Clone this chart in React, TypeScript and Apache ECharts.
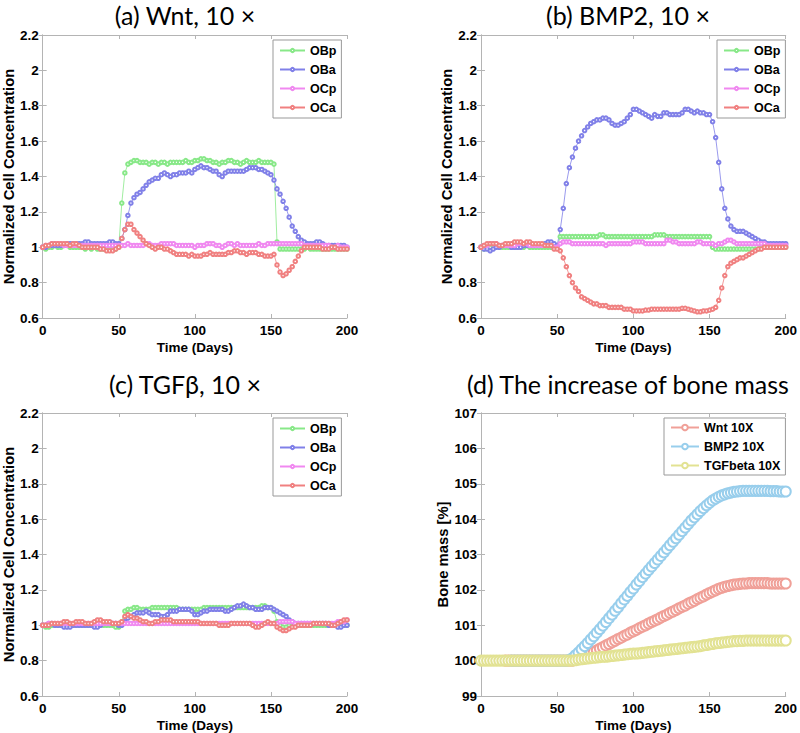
import React, { useEffect, useRef } from "react";
import * as echarts from "echarts";

// Sampling days (every 2 days, 0..200)
const DAYS: number[] = Array.from({ length: 101 }, (_, i) => i * 2);

const X_TICKS = [0, 50, 100, 150, 200];
const Y_TICKS_CELL = [0.6, 0.8, 1, 1.2, 1.4, 1.6, 1.8, 2, 2.2];
const Y_TICKS_BONE = [99, 100, 101, 102, 103, 104, 105, 106, 107];

const TITLES = ["(a) Wnt, 10 ×", "(b) BMP2, 10 ×", "(c) TGFβ, 10 ×", "(d) The increase of bone mass"];
const CELL_NAMES = ["OBp", "OBa", "OCp", "OCa"];
const BONE_NAMES = ["Wnt 10X", "BMP2 10X", "TGFbeta 10X"];

// ---------- (a) Wnt 10x ----------
const A_OBp = [
  1.00, 0.99, 1.00, 1.00, 1.01, 1.00, 1.00, 1.01, 1.01, 1.00,
  1.00, 1.00, 1.00, 1.00, 0.99, 1.00, 0.99, 1.00, 0.99, 0.99,
  0.99, 0.99, 0.99, 0.99, 0.99, 1.00, 1.25, 1.42, 1.47, 1.48,
  1.49, 1.49, 1.48, 1.48, 1.48, 1.47, 1.48, 1.48, 1.47, 1.48,
  1.48, 1.47, 1.48, 1.48, 1.48, 1.48, 1.48, 1.49, 1.48, 1.48,
  1.49, 1.49, 1.50, 1.50, 1.49, 1.49, 1.48, 1.48, 1.47, 1.48,
  1.48, 1.49, 1.49, 1.48, 1.48, 1.47, 1.48, 1.49, 1.48, 1.48,
  1.48, 1.49, 1.48, 1.48, 1.48, 1.48, 1.47, 1.03, 0.99, 0.99,
  0.99, 0.99, 0.99, 0.99, 0.99, 0.99, 0.99, 1.00, 0.99, 0.99,
  0.99, 0.99, 0.99, 0.99, 0.99, 0.99, 0.99, 0.99, 0.99, 0.99,
  0.99,
];
const A_OBa = [
  1.00, 1.00, 1.01, 1.01, 1.01, 1.01, 1.01, 1.01, 1.02, 1.02,
  1.02, 1.02, 1.02, 1.02, 1.03, 1.03, 1.02, 1.02, 1.02, 1.02,
  1.02, 1.02, 1.03, 1.03, 1.02, 1.02, 1.05, 1.10, 1.18, 1.25,
  1.28, 1.30, 1.31, 1.33, 1.35, 1.37, 1.38, 1.39, 1.39, 1.41,
  1.42, 1.41, 1.40, 1.41, 1.41, 1.42, 1.42, 1.42, 1.43, 1.42,
  1.44, 1.45, 1.46, 1.45, 1.45, 1.44, 1.43, 1.43, 1.41, 1.40,
  1.42, 1.43, 1.43, 1.43, 1.43, 1.43, 1.43, 1.44, 1.45, 1.45,
  1.45, 1.44, 1.44, 1.43, 1.42, 1.41, 1.38, 1.33, 1.30, 1.26,
  1.22, 1.17, 1.12, 1.09, 1.06, 1.04, 1.03, 1.02, 1.02, 1.02,
  1.03, 1.03, 1.02, 1.01, 1.01, 1.01, 1.01, 1.01, 1.01, 1.01,
  1.00,
];
const A_OCp = [
  1.00, 1.01, 1.01, 1.02, 1.02, 1.02, 1.02, 1.01, 1.01, 1.01,
  1.01, 1.01, 1.01, 1.01, 1.01, 1.01, 1.01, 1.01, 1.01, 1.01,
  1.01, 1.01, 1.01, 1.01, 1.01, 1.01, 1.01, 1.01, 1.02, 1.01,
  1.01, 1.01, 1.01, 1.01, 1.02, 1.02, 1.01, 1.01, 1.01, 1.02,
  1.02, 1.02, 1.02, 1.02, 1.01, 1.01, 1.01, 1.01, 1.01, 1.01,
  1.00, 1.01, 1.01, 1.01, 1.02, 1.02, 1.02, 1.01, 1.01, 1.00,
  1.01, 1.02, 1.02, 1.01, 1.02, 1.01, 1.01, 1.01, 1.01, 1.01,
  1.01, 1.02, 1.01, 1.01, 1.02, 1.02, 1.02, 1.02, 1.02, 1.02,
  1.02, 1.02, 1.02, 1.02, 1.02, 1.02, 1.01, 1.01, 1.01, 1.01,
  1.01, 1.01, 1.01, 1.01, 1.01, 1.00, 1.00, 1.01, 1.00, 1.00,
  1.00,
];
const A_OCa = [
  1.00, 1.01, 1.01, 1.02, 1.02, 1.02, 1.02, 1.02, 1.02, 1.01,
  1.02, 1.02, 1.01, 1.00, 1.00, 1.00, 1.00, 1.00, 1.00, 0.99,
  0.99, 0.98, 0.98, 0.98, 0.99, 1.00, 1.05, 1.10, 1.13, 1.13,
  1.10, 1.08, 1.06, 1.04, 1.02, 1.01, 1.00, 0.99, 1.00, 1.00,
  0.99, 0.99, 0.98, 0.97, 0.96, 0.96, 0.96, 0.96, 0.95, 0.96,
  0.95, 0.95, 0.95, 0.96, 0.96, 0.97, 0.96, 0.96, 0.96, 0.96,
  0.96, 0.97, 0.97, 0.98, 0.98, 0.97, 0.97, 0.96, 0.97, 0.97,
  0.97, 0.96, 0.96, 0.95, 0.95, 0.95, 0.96, 0.90, 0.86, 0.84,
  0.85, 0.87, 0.89, 0.92, 0.95, 0.98, 1.00, 1.00, 1.00, 1.00,
  1.00, 1.00, 0.99, 0.99, 0.99, 1.00, 1.00, 0.99, 0.99, 0.99,
  0.99,
];

// ---------- (b) BMP2 10x ----------
const B_OBp = [
  1.00, 0.99, 1.00, 1.00, 1.01, 1.01, 1.00, 1.00, 1.00, 1.00,
  1.00, 1.00, 1.00, 1.00, 1.00, 1.01, 1.00, 1.00, 1.00, 1.00,
  1.00, 1.00, 1.00, 1.00, 1.00, 1.00, 1.06, 1.06, 1.06, 1.06,
  1.06, 1.06, 1.06, 1.06, 1.06, 1.06, 1.06, 1.06, 1.06, 1.07,
  1.07, 1.06, 1.06, 1.06, 1.06, 1.06, 1.06, 1.06, 1.06, 1.06,
  1.06, 1.06, 1.06, 1.06, 1.06, 1.06, 1.06, 1.07, 1.07, 1.07,
  1.07, 1.06, 1.06, 1.06, 1.06, 1.06, 1.06, 1.06, 1.06, 1.06,
  1.06, 1.06, 1.06, 1.06, 1.06, 1.06, 1.00, 0.99, 0.99, 0.99,
  0.99, 0.99, 0.99, 0.99, 0.99, 0.99, 0.99, 0.99, 0.99, 0.99,
  0.99, 0.99, 1.00, 1.00, 1.00, 1.00, 1.00, 1.00, 1.00, 1.00,
  1.00,
];
const B_OBa = [
  1.00, 0.99, 0.99, 0.98, 0.99, 1.00, 1.00, 1.01, 1.01, 1.01,
  1.00, 1.00, 1.00, 1.00, 1.01, 1.01, 1.01, 1.01, 1.01, 1.01,
  1.01, 1.02, 1.03, 1.03, 1.02, 1.01, 1.10, 1.22, 1.36, 1.45,
  1.51, 1.56, 1.60, 1.63, 1.66, 1.68, 1.70, 1.71, 1.72, 1.72,
  1.73, 1.73, 1.72, 1.70, 1.69, 1.69, 1.70, 1.71, 1.73, 1.75,
  1.78, 1.78, 1.77, 1.76, 1.75, 1.74, 1.73, 1.75, 1.74, 1.74,
  1.76, 1.76, 1.75, 1.75, 1.75, 1.75, 1.76, 1.78, 1.78, 1.77,
  1.76, 1.77, 1.76, 1.76, 1.75, 1.75, 1.71, 1.62, 1.48, 1.33,
  1.22, 1.16, 1.12, 1.10, 1.09, 1.09, 1.09, 1.08, 1.07, 1.06,
  1.05, 1.04, 1.03, 1.03, 1.02, 1.02, 1.02, 1.02, 1.02, 1.02,
  1.02,
];
const B_OCp = [
  1.00, 1.01, 1.01, 1.02, 1.02, 1.02, 1.01, 1.01, 1.01, 1.01,
  1.01, 1.01, 1.02, 1.02, 1.02, 1.02, 1.01, 1.01, 1.01, 1.01,
  1.01, 1.01, 1.01, 1.01, 1.00, 1.00, 1.02, 1.03, 1.03, 1.03,
  1.02, 1.02, 1.02, 1.02, 1.02, 1.02, 1.02, 1.02, 1.02, 1.02,
  1.02, 1.01, 1.02, 1.02, 1.02, 1.02, 1.02, 1.02, 1.02, 1.02,
  1.03, 1.03, 1.03, 1.03, 1.02, 1.02, 1.02, 1.02, 1.02, 1.02,
  1.02, 1.04, 1.04, 1.03, 1.03, 1.02, 1.02, 1.02, 1.02, 1.02,
  1.02, 1.03, 1.03, 1.02, 1.02, 1.02, 1.02, 1.01, 1.02, 1.02,
  1.03, 1.04, 1.04, 1.03, 1.02, 1.02, 1.02, 1.02, 1.02, 1.02,
  1.02, 1.02, 1.02, 1.02, 1.01, 1.01, 1.01, 1.01, 1.01, 1.01,
  1.01,
];
const B_OCa = [
  1.00, 1.01, 1.02, 1.02, 1.02, 1.02, 1.01, 1.01, 1.02, 1.02,
  1.02, 1.03, 1.03, 1.03, 1.02, 1.03, 1.03, 1.02, 1.02, 1.02,
  1.02, 1.01, 1.01, 1.01, 0.99, 0.99, 0.98, 0.94, 0.89, 0.84,
  0.80, 0.77, 0.75, 0.72, 0.71, 0.70, 0.69, 0.68, 0.68, 0.67,
  0.67, 0.67, 0.66, 0.66, 0.66, 0.66, 0.66, 0.65, 0.65, 0.65,
  0.64, 0.64, 0.64, 0.64, 0.645, 0.645, 0.65, 0.65, 0.65, 0.65,
  0.65, 0.65, 0.65, 0.65, 0.65, 0.65, 0.655, 0.655, 0.65, 0.645,
  0.64, 0.635, 0.635, 0.64, 0.64, 0.645, 0.65, 0.66, 0.70, 0.77,
  0.84, 0.89, 0.91, 0.92, 0.93, 0.94, 0.94, 0.95, 0.96, 0.97,
  0.98, 0.99, 0.99, 1.00, 1.00, 1.00, 1.00, 1.00, 1.00, 1.00,
  1.00,
];

// ---------- (c) TGFbeta 10x ----------
const C_OBp = [
  1.00, 0.99, 0.99, 1.00, 1.00, 1.00, 1.00, 1.00, 1.00, 1.00,
  1.00, 1.00, 1.00, 1.00, 1.00, 1.00, 1.00, 1.00, 1.00, 1.00,
  1.00, 1.00, 1.00, 1.00, 0.99, 0.99, 1.02, 1.08, 1.09, 1.09,
  1.10, 1.10, 1.09, 1.09, 1.09, 1.09, 1.10, 1.10, 1.10, 1.10,
  1.10, 1.10, 1.10, 1.10, 1.10, 1.09, 1.09, 1.09, 1.09, 1.09,
  1.09, 1.09, 1.09, 1.10, 1.10, 1.10, 1.10, 1.10, 1.10, 1.10,
  1.10, 1.10, 1.10, 1.10, 1.10, 1.10, 1.10, 1.10, 1.10, 1.10,
  1.10, 1.10, 1.11, 1.11, 1.10, 1.10, 1.08, 1.02, 1.00, 0.99,
  0.99, 1.00, 1.00, 1.00, 1.00, 1.00, 1.00, 1.00, 1.00, 1.00,
  1.00, 1.00, 1.00, 1.00, 1.00, 1.00, 1.00, 1.00, 1.00, 1.00,
  1.00,
];
const C_OBa = [
  1.00, 1.00, 1.01, 1.01, 1.00, 1.00, 1.00, 0.99, 0.99, 0.99,
  1.00, 1.00, 1.00, 1.00, 1.00, 1.00, 1.00, 0.99, 0.99, 1.00,
  1.01, 1.01, 1.01, 1.01, 1.01, 1.00, 1.00, 1.02, 1.04, 1.05,
  1.06, 1.07, 1.07, 1.07, 1.08, 1.07, 1.06, 1.06, 1.06, 1.05,
  1.05, 1.06, 1.08, 1.08, 1.08, 1.09, 1.09, 1.09, 1.09, 1.08,
  1.06, 1.06, 1.07, 1.08, 1.08, 1.09, 1.09, 1.09, 1.09, 1.09,
  1.08, 1.08, 1.09, 1.10, 1.11, 1.11, 1.12, 1.11, 1.10, 1.10,
  1.09, 1.09, 1.09, 1.10, 1.10, 1.10, 1.09, 1.08, 1.07, 1.06,
  1.05, 1.03, 1.02, 1.01, 1.01, 1.01, 1.01, 1.01, 1.01, 1.01,
  1.01, 1.01, 1.01, 1.01, 1.00, 1.00, 1.00, 0.99, 0.99, 1.00,
  1.00,
];
const C_OCp = [
  1.00, 1.00, 1.01, 1.01, 1.01, 1.01, 1.01, 1.01, 1.01, 1.01,
  1.01, 1.01, 1.01, 1.01, 1.01, 1.01, 1.01, 1.01, 1.01, 1.01,
  1.01, 1.01, 1.01, 1.01, 1.01, 1.01, 1.01, 1.01, 1.01, 1.01,
  1.01, 1.01, 1.01, 1.01, 1.01, 1.01, 1.01, 1.01, 1.01, 1.01,
  1.01, 1.01, 1.01, 1.01, 1.01, 1.01, 1.01, 1.01, 1.01, 1.01,
  1.01, 1.01, 1.01, 1.01, 1.01, 1.01, 1.01, 1.01, 1.01, 1.01,
  1.01, 1.01, 1.01, 1.01, 1.01, 1.01, 1.01, 1.01, 1.01, 1.01,
  1.01, 1.01, 1.01, 1.01, 1.01, 1.01, 1.01, 1.01, 1.02, 1.02,
  1.02, 1.02, 1.02, 1.01, 1.01, 1.01, 1.01, 1.01, 1.01, 1.01,
  1.01, 1.01, 1.01, 1.01, 1.01, 1.01, 1.01, 1.02, 1.02, 1.02,
  1.03,
];
const C_OCa = [
  1.00, 1.00, 1.00, 1.01, 1.01, 1.01, 1.01, 1.02, 1.02, 1.01,
  1.01, 1.02, 1.02, 1.02, 1.01, 1.01, 1.01, 1.02, 1.03, 1.03,
  1.02, 1.02, 1.02, 1.01, 1.01, 1.01, 1.02, 1.05, 1.06, 1.05,
  1.04, 1.04, 1.03, 1.02, 1.02, 1.01, 1.01, 1.02, 1.02, 1.03,
  1.03, 1.03, 1.03, 1.02, 1.02, 1.02, 1.02, 1.02, 1.02, 1.02,
  1.02, 1.02, 1.01, 1.01, 1.01, 1.01, 1.01, 1.01, 1.00, 1.00,
  1.00, 1.00, 1.01, 1.01, 1.01, 1.01, 1.01, 1.01, 1.01, 1.00,
  0.99, 0.99, 1.00, 1.01, 1.02, 1.01, 1.01, 0.99, 0.98, 0.97,
  0.97, 0.98, 0.99, 0.99, 1.00, 1.00, 1.00, 1.00, 1.00, 1.01,
  1.01, 1.01, 1.01, 1.01, 1.01, 1.00, 1.00, 1.01, 1.02, 1.03,
  1.03,
];

// ---------- (d) Bone mass [%] ----------
const D_WNT = [
  null, null, null, null, null, null, null, null, 100.0, 100.0,
  100.0, 100.0, 100.0, 100.0, 100.0, 100.0, 100.0, 100.0, 100.0, 100.0,
  100.0, 100.0, 100.0, 100.0, 100.0, 100.0, 100.0, 100.0, 100.0, 100.0,
  100.0, 100.02, 100.05, 100.08, 100.12, 100.16, 100.2, 100.25, 100.29, 100.34,
  100.38, 100.43, 100.47, 100.52, 100.56, 100.61, 100.65, 100.7, 100.74, 100.79,
  100.83, 100.87, 100.92, 100.96, 101.0, 101.05, 101.09, 101.13, 101.17, 101.22,
  101.26, 101.3, 101.35, 101.39, 101.43, 101.48, 101.52, 101.56, 101.61, 101.65,
  101.69, 101.74, 101.78, 101.82, 101.87, 101.91, 101.95, 101.99, 102.03, 102.06,
  102.09, 102.11, 102.13, 102.15, 102.16, 102.17, 102.18, 102.18, 102.19, 102.19,
  102.19, 102.19, 102.19, 102.19, 102.19, 102.18, 102.18, 102.18, 102.18, 102.18,
  102.18,
];
const D_BMP2 = [
  null, null, null, null, null, null, null, null, null, null,
  100.0, 100.0, 100.0, 100.0, 100.0, 100.0, 100.0, 100.0, 100.0, 100.0,
  100.0, 100.0, 100.0, 100.0, 100.0, 100.0, 100.0, 100.0, 100.0, 100.02,
  100.07, 100.15, 100.23, 100.32, 100.41, 100.5, 100.6, 100.69, 100.79, 100.89,
  100.99, 101.09, 101.2, 101.3, 101.41, 101.51, 101.62, 101.73, 101.83, 101.94,
  102.04, 102.15, 102.25, 102.36, 102.46, 102.56, 102.66, 102.76, 102.86, 102.96,
  103.06, 103.16, 103.26, 103.36, 103.46, 103.56, 103.66, 103.76, 103.86, 103.96,
  104.05, 104.14, 104.23, 104.31, 104.39, 104.46, 104.53, 104.58, 104.63, 104.67,
  104.7, 104.73, 104.75, 104.77, 104.78, 104.79, 104.8, 104.8, 104.8, 104.8,
  104.8, 104.8, 104.8, 104.8, 104.8, 104.79, 104.79, 104.79, 104.78, 104.78,
  104.78,
];
const D_TGF = [
  100.0, 100.0, 100.0, 100.0, 100.0, 100.0, 100.0, 100.0, 100.0, 100.0,
  100.0, 100.0, 100.0, 100.0, 100.0, 100.0, 100.0, 100.0, 100.0, 100.0,
  100.0, 100.0, 100.0, 100.0, 100.0, 100.0, 100.0, 100.0, 100.0, 100.0,
  100.0, 100.01, 100.03, 100.04, 100.05, 100.06, 100.07, 100.08, 100.09, 100.1,
  100.11, 100.11, 100.12, 100.13, 100.14, 100.15, 100.16, 100.17, 100.18, 100.19,
  100.2, 100.2, 100.21, 100.22, 100.23, 100.24, 100.25, 100.26, 100.27, 100.28,
  100.29, 100.3, 100.31, 100.32, 100.33, 100.34, 100.35, 100.36, 100.37, 100.38,
  100.39, 100.4, 100.41, 100.43, 100.44, 100.46, 100.47, 100.49, 100.5, 100.51,
  100.52, 100.53, 100.54, 100.55, 100.55, 100.56, 100.56, 100.57, 100.57, 100.57,
  100.57, 100.57, 100.57, 100.57, 100.57, 100.57, 100.57, 100.57, 100.57, 100.57,
  100.57,
];

const CELL_COLORS = ["#88e888", "#8080e8", "#f088f0", "#f08080"];
const BONE_COLORS = ["#f0a098", "#98ceec", "#e2e292"];

const PANELS = [
  { left: 38, top: 35, width: 309, height: 283 },
  { left: 481, top: 35, width: 308, height: 283 },
  { left: 38, top: 413, width: 309, height: 283 },
  { left: 481, top: 413, width: 308, height: 283 },
];

const AXIS_GRAY = "#b4b4b4";
const LABEL_FONT = "'Liberation Sans', Arial, sans-serif";

function pairs(vals: (number | null)[]) {
  return DAYS.map((d, i) => [d, vals[i]]);
}

export default function App() {
  const ref = useRef<HTMLDivElement>(null);
  useEffect(() => {
    if (!ref.current) return;
    const chart = echarts.init(ref.current, undefined, { renderer: "svg" });

    const xAxes: any[] = [];
    const yAxes: any[] = [];
    PANELS.forEach((p, gi) => {
      const isBone = gi === 3;
      const yT = isBone ? Y_TICKS_BONE : Y_TICKS_CELL;
      const yMin = yT[0];
      const yMax = yT[yT.length - 1];
      const yInt = isBone ? 1 : 0.2;
      const tickStyle = { show: true, inside: true, length: 4, lineStyle: { color: AXIS_GRAY, width: 1 } };
      const lineStyle = { show: true, lineStyle: { color: AXIS_GRAY, width: 1 } };
      xAxes.push({
        type: "value",
        gridIndex: gi,
        position: "bottom",
        min: X_TICKS[0],
        max: X_TICKS[X_TICKS.length - 1],
        interval: 50,
        axisLine: lineStyle,
        axisTick: tickStyle,
        splitLine: { show: false },
        axisLabel: { color: "#000", fontWeight: "bold", fontSize: 13.5, fontFamily: LABEL_FONT, margin: 5 },
        name: "Time (Days)",
        nameLocation: "middle",
        nameGap: 22,
        nameTextStyle: { color: "#000", fontWeight: "bold", fontSize: 13.5, fontFamily: LABEL_FONT },
      });
      xAxes.push({
        type: "value",
        gridIndex: gi,
        position: "top",
        min: X_TICKS[0],
        max: X_TICKS[X_TICKS.length - 1],
        interval: 50,
        axisLine: lineStyle,
        axisTick: tickStyle,
        splitLine: { show: false },
        axisLabel: { show: false },
      });
      yAxes.push({
        type: "value",
        gridIndex: gi,
        position: "left",
        min: yMin,
        max: yMax,
        interval: yInt,
        axisLine: lineStyle,
        axisTick: tickStyle,
        splitLine: { show: false },
        axisLabel: { color: "#000", fontWeight: "bold", fontSize: 13.5, fontFamily: LABEL_FONT, margin: 4 },
        name: isBone ? "Bone mass [%]" : "Normalized Cell Concentration",
        nameLocation: "middle",
        nameGap: isBone ? 26 : 23,
        nameTextStyle: { color: "#000", fontWeight: "bold", fontSize: 14.8, fontFamily: LABEL_FONT },
      });
      yAxes.push({
        type: "value",
        gridIndex: gi,
        position: "right",
        min: yMin,
        max: yMax,
        interval: yInt,
        axisLine: lineStyle,
        axisTick: tickStyle,
        splitLine: { show: false },
        axisLabel: { show: false },
      });
    });

    const cellSets = [
      [A_OBp, A_OBa, A_OCp, A_OCa],
      [B_OBp, B_OBa, B_OCp, B_OCa],
      [C_OBp, C_OBa, C_OCp, C_OCa],
    ];
    const series: any[] = [];
    cellSets.forEach((set, gi) => {
      set.forEach((vals, si) => {
        series.push({
          type: "line",
          name: CELL_NAMES[si],
          xAxisIndex: gi * 2,
          yAxisIndex: gi * 2,
          data: pairs(vals),
          symbol: "emptyCircle",
          symbolSize: 3.5,
          showSymbol: true,
          lineStyle: { color: CELL_COLORS[si], width: 0.8 },
          itemStyle: { color: CELL_COLORS[si], borderWidth: 0.7 },
          emphasis: { disabled: true },
          silent: true,
        });
      });
    });
    [D_WNT, D_BMP2, D_TGF].forEach((vals, si) => {
      series.push({
        type: "line",
        name: BONE_NAMES[si],
        xAxisIndex: 6,
        yAxisIndex: 6,
        data: pairs(vals),
        symbol: "emptyCircle",
        symbolSize: 10,
        showSymbol: true,
        connectNulls: false,
        lineStyle: { color: BONE_COLORS[si], width: 1 },
        itemStyle: { color: BONE_COLORS[si], borderWidth: 0.8 },
        emphasis: { disabled: true },
        silent: true,
      });
    });

    const legendText = { color: "#000", fontWeight: "bold", fontSize: 12.5, fontFamily: LABEL_FONT };
    const cellLegendPos = [
      { left: 273, top: 40 },
      { left: 717, top: 40 },
      { left: 273, top: 418 },
    ];
    const legends: any[] = cellLegendPos.map((pos) => ({
      ...pos,
      orient: "vertical",
      data: CELL_NAMES,
      itemWidth: 25,
      itemHeight: 4,
      itemGap: 6,
      padding: [4, 5, 4, 6],
      borderColor: "#999",
      borderWidth: 1,
      backgroundColor: "#fff",
      textStyle: legendText,
      selectedMode: false,
    }));
    legends.push({
      left: 664,
      top: 418,
      orient: "vertical",
      data: BONE_NAMES,
      itemWidth: 28,
      itemHeight: 7,
      itemGap: 6,
      padding: [3, 5, 3, 6],
      borderColor: "#999",
      borderWidth: 1,
      backgroundColor: "#fff",
      textStyle: legendText,
      selectedMode: false,
    });

    const titleCenters = [
      { left: 185, top: 2 },
      { left: 628, top: 2 },
      { left: 185, top: 371 },
      { left: 628, top: 371 },
    ];
    const titles = TITLES.map((t, i) => ({
      text: t,
      left: titleCenters[i].left,
      top: titleCenters[i].top,
      textAlign: "center",
      padding: 0,
      textStyle: {
        color: "#000",
        fontWeight: "normal",
        fontSize: 25,
        lineHeight: 26,
        fontFamily: "Lato, 'Open Sans', sans-serif",
      },
    }));

    chart.setOption({
      animation: false,
      backgroundColor: "#fff",
      title: titles,
      grid: PANELS.map((p) => ({ ...p, containLabel: false })),
      xAxis: xAxes,
      yAxis: yAxes,
      legend: legends,
      series,
    });
    return () => chart.dispose();
  }, []);

  return (
    <div
      ref={ref}
      style={{ position: "absolute", left: 0, top: 0, width: 800, height: 733, background: "#fff" }}
    />
  );
}
